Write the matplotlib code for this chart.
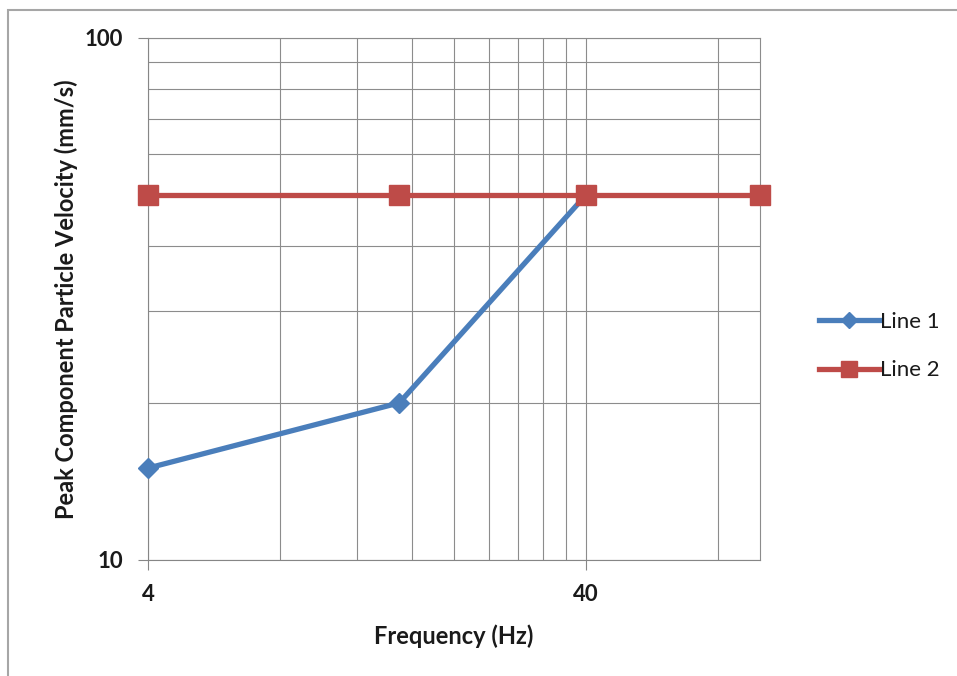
import numpy as np
import matplotlib.pyplot as plt
from matplotlib.ticker import FixedLocator, NullFormatter, FixedFormatter
from matplotlib.lines import Line2D
from matplotlib.patches import Rectangle

# --- DATOS ---
freq_line1 = [4, 15, 40]
vel_line1 = [15, 20, 50]
freq_line2 = [4, 15, 40, 100]
vel_line2 = [50, 50, 50, 50]
x_major = [4, 40]
x_minor = [8, 12, 16, 20, 24, 28, 32, 36, 80]
y_major = [10, 100]
y_minor = [20, 30, 40, 50, 60, 70, 80, 90]

azul = "#4a7ebb"
rojo = "#be4b48"
gris_grid = "#8c8c8c"

plt.rcParams['font.family'] = ['Lato', 'DejaVu Sans']

fig = plt.figure(figsize=(9.57, 6.76), dpi=100)
# marco del grafico (como en Excel)
fig.patches.append(Rectangle((8 / 957, -0.01), 1.0, 1 - 10 / 676 + 0.01,
                             transform=fig.transFigure, fill=False,
                             edgecolor="#a6a6a6", linewidth=1.5))

ax = fig.add_axes([148 / 957, 116 / 676, 612 / 957, 522 / 676])
ax.set_xscale('log')
ax.set_yscale('log')
ax.set_xlim(4, 100)
ax.set_ylim(10, 100)

ax.xaxis.set_major_locator(FixedLocator(x_major))
ax.xaxis.set_major_formatter(FixedFormatter([str(v) for v in x_major]))
ax.xaxis.set_minor_locator(FixedLocator(x_minor))
ax.xaxis.set_minor_formatter(NullFormatter())
ax.yaxis.set_major_locator(FixedLocator(y_major))
ax.yaxis.set_major_formatter(FixedFormatter([str(v) for v in y_major]))
ax.yaxis.set_minor_locator(FixedLocator(y_minor))
ax.yaxis.set_minor_formatter(NullFormatter())

ax.grid(True, which='both', color=gris_grid, linewidth=0.8)
ax.tick_params(which='minor', length=0)
ax.tick_params(which='major', length=7, width=0.8, color="#868686",
               labelsize=16, labelcolor="#1a1a1a")
ax.tick_params(axis='y', pad=11)
ax.tick_params(axis='x', pad=10)
for lab in ax.get_xticklabels() + ax.get_yticklabels():
    lab.set_fontweight('bold')
for s in ax.spines.values():
    s.set_color(gris_grid)
    s.set_linewidth(0.8)
ax.spines['left'].set_color("#868686")
ax.spines['bottom'].set_color("#868686")

ax.plot(freq_line1, vel_line1, color=azul, linewidth=3.8, marker='D',
        markersize=10, zorder=3, clip_on=False)
ax.plot(freq_line2, vel_line2, color=rojo, linewidth=3.8, marker='s',
        markersize=14, zorder=4, clip_on=False)

ax.set_xlabel("Frequency (Hz)", fontsize=17, fontweight='bold', labelpad=14,
              color="#1a1a1a")
ax.set_ylabel("Peak Component Particle Velocity (mm/s)", fontsize=17,
              fontweight='bold', labelpad=5, color="#1a1a1a")

handles = [
    Line2D([], [], color=azul, linewidth=3.8, marker='D', markersize=8),
    Line2D([], [], color=rojo, linewidth=3.8, marker='s', markersize=12),
]
ax.legend(handles, ["Line 1", "Line 2"], loc='center left',
          bbox_to_anchor=(1.064, 0.41), frameon=False, fontsize=16,
          handlelength=2.7, handletextpad=0.05, labelspacing=1.3,
          labelcolor="#1a1a1a")

fig.savefig("out.png", dpi=100)
